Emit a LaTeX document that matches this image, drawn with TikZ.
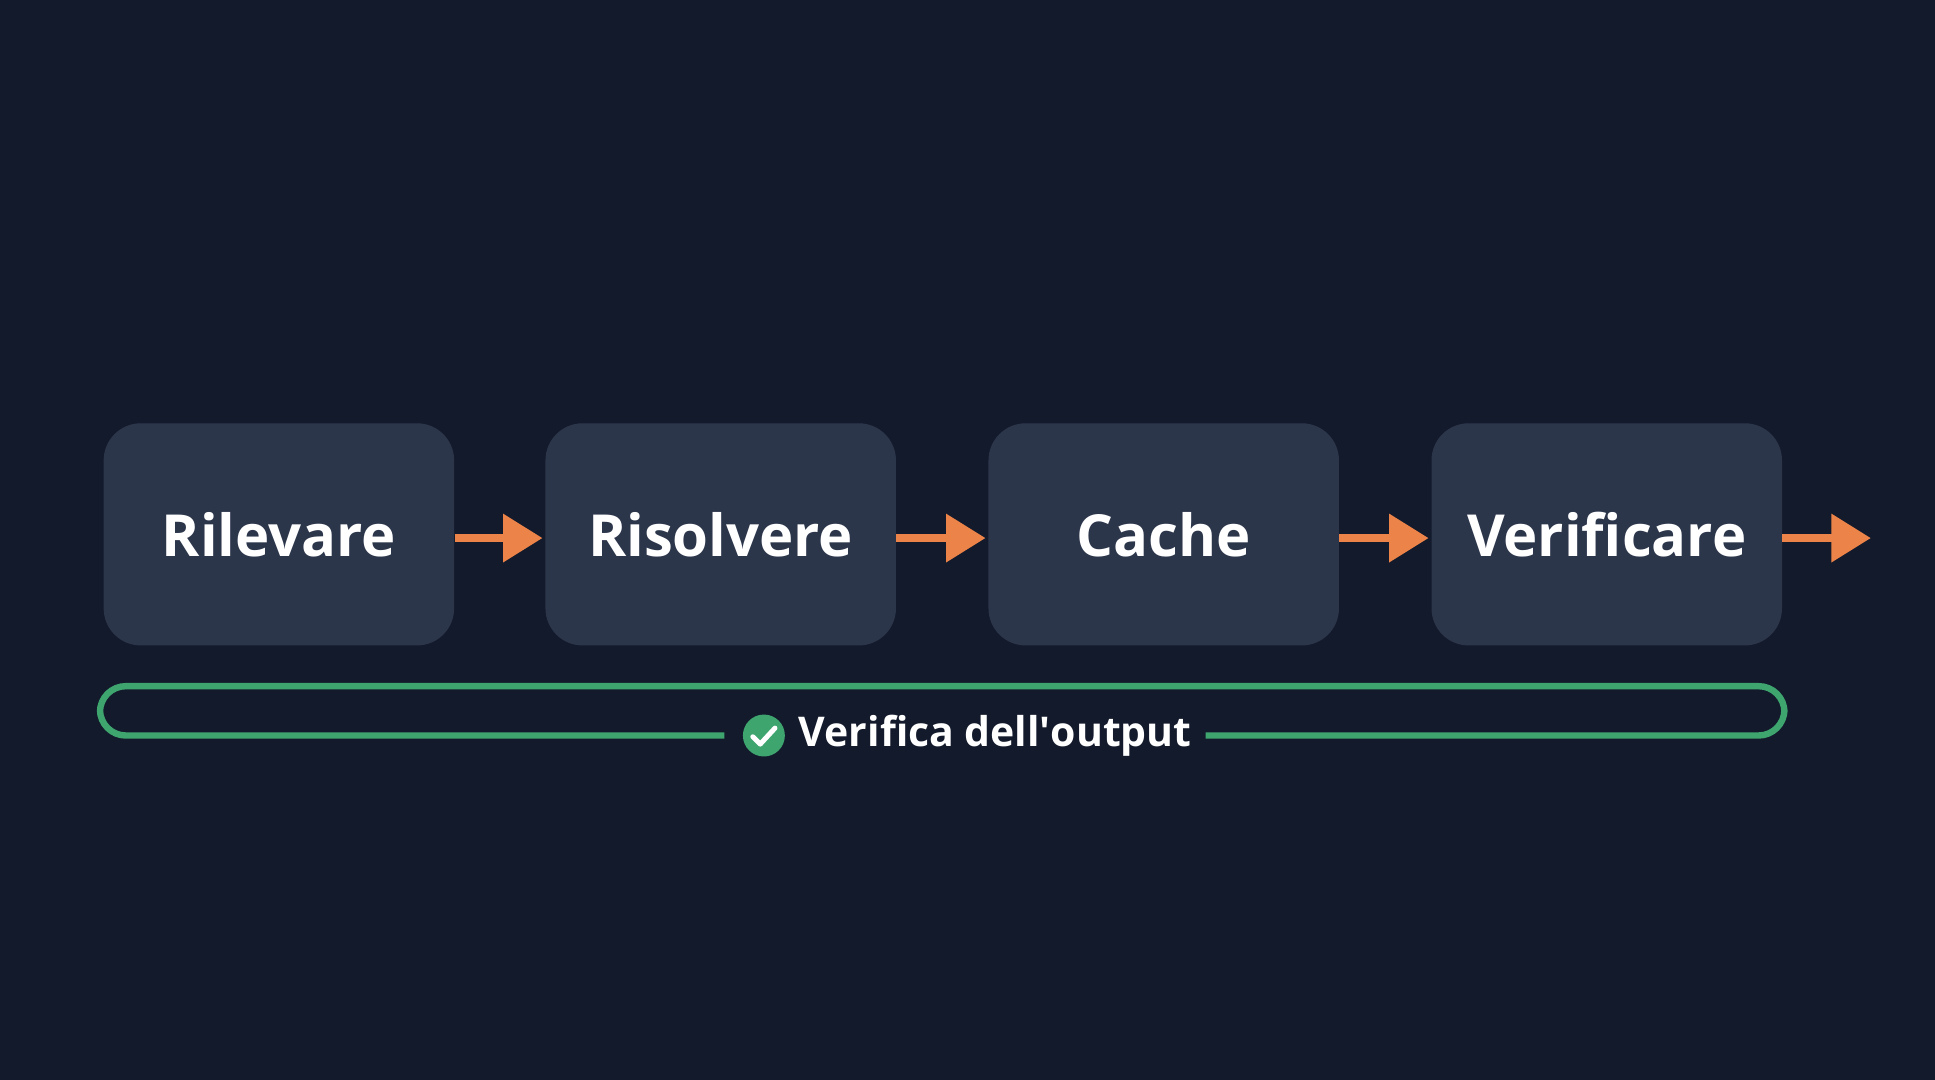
\documentclass[tikz,border=0pt]{standalone}
\usepackage{fontspec}
\setmainfont{Open Sans}
\usetikzlibrary{arrows.meta}
\definecolor{bgcol}{HTML}{131A2C}
\definecolor{boxcol}{HTML}{2C364B}
\definecolor{arrcol}{HTML}{EC8449}
\definecolor{okcol}{HTML}{3FA56F}
\tikzset{
  stage/.style={rounded corners=15pt, fill=boxcol, minimum width=142pt, minimum height=90pt, inner xsep=0pt, text=white, font=\bfseries\fontsize{23.5}{26}\selectfont},
  flow/.style={draw=arrcol, line width=3pt, -{Triangle[length=16pt,width=19pt]}, shorten >=1pt}
}
\begin{document}
\begin{tikzpicture}[x=0.5pt,y=0.5pt,yscale=-1,xscale=1]
\fill[bgcol] (0,0) rectangle (1568,875);
\useasboundingbox (0,0) rectangle (1568,875);

% Steps
\node[stage] (rilevare) at (226,433) {Rilevare};
\node[stage] (risolvere) at (584,433) {Risolvere};
\node[stage] (cache) at (943,433) {Cache};
\node[stage] (verificare) at (1302,433) {Verificare};
\coordinate (fine) at (1518,436);

% Arrows
\draw[flow] (rilevare.east |- 0,436) -- (risolvere.west |- 0,436);
\draw[flow] (risolvere.east |- 0,436) -- (cache.west |- 0,436);
\draw[flow] (cache.east |- 0,436) -- (verificare.west |- 0,436);
\draw[flow] (verificare.east |- 0,436) -- (fine);

% Output check
\draw[okcol, line width=2.6pt, rounded corners=10.5pt] (587,596) -- (81,596) -- (81,556) -- (1446,556) -- (1446,596) -- (977,596);
\node[circle, fill=okcol, minimum size=17pt, inner sep=0pt] (ok) at (619,596) {};
\draw[white, line width=2pt, line cap=round, line join=round] (610,597) -- (616,603) -- (628,590);
\node[anchor=west, text=white, font=\bfseries\fontsize{16.6}{19}\selectfont, inner sep=0pt] (etichetta) at (647,596) {Verifica dell\textquotesingle output};
\end{tikzpicture}
\end{document}
